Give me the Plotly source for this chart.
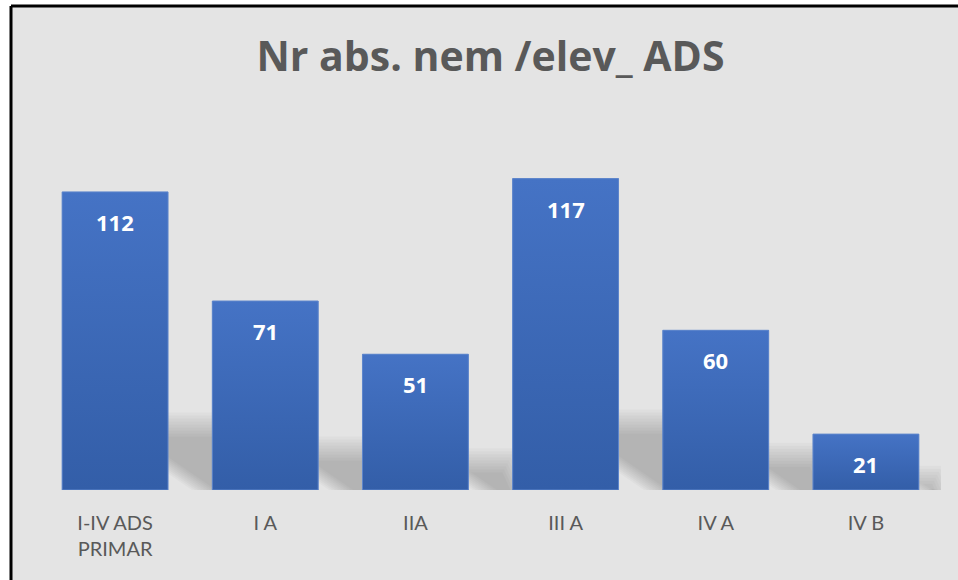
import plotly.graph_objects as go

categories = ["I-IV ADS<br>PRIMAR", "I A", "IIA", "III A", "IV A", "IV B"]
values = [112, 71, 51, 117, 60, 21]
title_text = "Nr abs. nem /elev_ ADS"

W, H = 958, 580
ml, mr, mt, mb = 40, 17, 144, 90
pw, ph = W - ml - mr, H - mt - mb
YMAX = 130
XR = [-0.5, len(categories) - 0.5]
px_x = pw / (XR[1] - XR[0])   # pixels per x unit
px_y = ph / YMAX              # pixels per y unit
BARW = 0.705
BG = "#e4e4e4"

idx = list(range(len(categories)))

fig = go.Figure()

# base bars
fig.add_trace(go.Bar(
    x=idx, y=values, width=BARW,
    marker=dict(color="#3b67b8", line=dict(width=0)),
    hovertext=[c.replace("<br>", " ") for c in categories], hoverinfo="text+y",
))

# gradient overlay on each bar
for i, v in zip(idx, values):
    x0, x1 = i - BARW / 2, i + BARW / 2
    fig.add_trace(go.Scatter(
        x=[x0, x1, x1, x0, x0], y=[0, 0, v, v, 0], mode="lines", fill="toself",
        line=dict(color="#5e86cc", width=1),
        fillgradient=dict(type="vertical", colorscale=[[0, "#335ea8"], [1, "#4573c5"]]),
        hoverinfo="skip",
    ))

# data labels
for i, v in zip(idx, values):
    fig.add_annotation(x=i, y=v, yshift=-30, text=f"<b>{v}</b>", showarrow=False,
                       font=dict(family="Open Sans", size=22, color="white"), yanchor="middle")

# chart frame: white strips outside, black left/top border lines
fx0 = (11 - ml) / pw
fy1 = (H - mb - 6) / ph
fx1 = (W - ml) / pw
fyb = -mb / ph
shapes = [
    dict(type="rect", xref="paper", yref="paper", x0=(0 - ml) / pw, x1=fx1, y0=fy1, y1=(H - mb) / ph,
         fillcolor="white", line=dict(width=0), layer="below"),
    dict(type="rect", xref="paper", yref="paper", x0=(0 - ml) / pw, x1=fx0, y0=fyb, y1=fy1,
         fillcolor="white", line=dict(width=0), layer="below"),
    dict(type="line", xref="paper", yref="paper", x0=fx0, x1=fx0, y0=fyb, y1=fy1,
         line=dict(color="black", width=3), layer="below"),
    dict(type="line", xref="paper", yref="paper", x0=fx0, x1=fx1, y0=fy1, y1=fy1,
         line=dict(color="black", width=3), layer="below"),
]

# soft perspective shadows to the right of each bar
for i, v in zip(idx, values):
    Hb = v * px_y
    xr = (i + BARW / 2) * px_x
    base0, base1 = xr + 0.12 * Hb, xr + 0.40 * Hb
    top0, top1 = xr - 0.20 * Hb, xr + 0.30 * Hb
    hs = 0.22 * Hb
    for e in [-12, -9, -6, -3, 0, 3, 6, 9, 12]:
        t = max(hs + e, 1)
        f = t / hs
        pts = [(base0 - e, 0), (base1 + e, 0),
               (base1 + (top1 - base1) * f + e, t), (base0 + (top0 - base0) * f - e, t)]
        path = "M " + " L ".join(f"{x / px_x:.4f},{y / px_y:.4f}" for x, y in pts) + " Z"
        shapes.append(dict(type="path", xref="x", yref="y", path=path,
                           fillcolor="rgba(0,0,0,0.025)", line=dict(width=0), layer="below"))

fig.update_layout(
    width=W, height=H,
    margin=dict(l=ml, r=mr, t=mt, b=mb),
    paper_bgcolor=BG, plot_bgcolor="rgba(0,0,0,0)",
    showlegend=False,
    shapes=shapes,
    title=dict(text="<b>" + title_text + "</b>", x=0.5, xref="paper", y=1 - 57 / H, yanchor="middle",
               font=dict(family="Open Sans", size=41, color="#595959")),
    xaxis=dict(range=XR, tickmode="array", tickvals=idx, ticktext=categories,
               showgrid=False, showline=False, zeroline=False, ticks="",
               tickfont=dict(family="Lato", size=20, color="#595959"),
               ticklabelstandoff=19),
    yaxis=dict(range=[0, YMAX], visible=False),
)

fig.write_html("out.html", config={"displayModeBar": False},
               post_script="document.body.style.margin='0';document.body.style.overflow='hidden';"
                           "document.documentElement.style.overflow='hidden';")
